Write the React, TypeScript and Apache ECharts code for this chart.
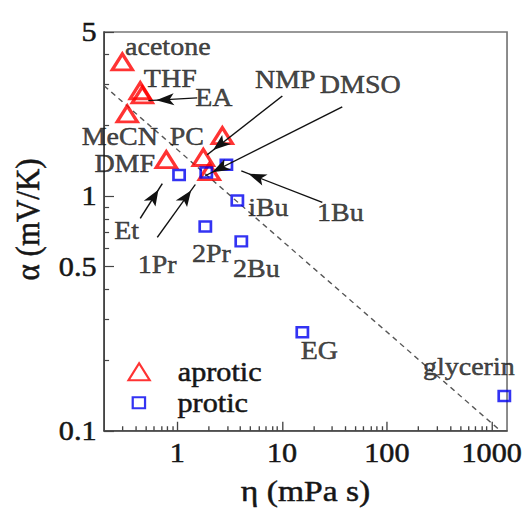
import React, { useEffect, useRef } from 'react';
import * as echarts from 'echarts';

// horizontal stretch of the reference figure
const S = 1.12;
const W = 471;
const H = 511;
const FONT = "'Liberation Serif', serif";
const TEXT = '#161616';

// aprotic solvents (red triangles)
const aproticNames = ['acetone', 'THF', 'EA', 'MeCN', 'PC', 'DMF', 'NMP', 'DMSO'];
const aproticEta = [0.299, 0.443, 0.464, 0.333, 2.69, 0.785, 1.77, 2.02];
const aproticAlpha = [3.73, 2.81, 2.7, 2.24, 1.81, 1.43, 1.46, 1.27];

// protic solvents (blue squares)
const proticNames = ['Et', '1Pr', '1Bu', 'iBu', '2Pr', '2Bu', 'EG', 'glycerin'];
const proticEta = [1.04, 1.89, 2.94, 3.74, 1.85, 4.08, 15.6, 1319];
const proticAlpha = [1.23, 1.26, 1.36, 0.957, 0.742, 0.641, 0.263, 0.1407];

// dashed guide line
const fitEta = [0.2, 1210];
const fitAlpha = [2.95, 0.1];

// annotation arrows (from label to point), in data units [eta, alpha]
const arrowFrom = [[1.55, 2.62], [10.05, 2.67], [37.5, 2.4], [24.2, 0.939], [0.443, 0.803], [0.644, 0.667]];
const arrowTo = [[0.529, 2.55], [1.93, 1.5], [1.85, 1.22], [4.08, 1.28], [0.719, 1.13], [1.486, 1.12]];

// ticks
const xLabelTicks = [1, 10, 100, 1000];
const xMinorTicks = [0.3, 0.4, 0.5, 0.6, 0.7, 0.8, 0.9, 2, 3, 4, 5, 6, 7, 8, 9, 20, 30, 40, 50, 60, 70, 80, 90, 200, 300, 400, 500, 600, 700, 800, 900];
const yLabelTicks = [0.1, 0.5, 1, 5];
const yMinorTicks = [0.2, 0.3, 0.4, 0.6, 0.7, 0.8, 0.9, 2, 3, 4];

// label placement (chart px offsets from the marker centre)
const labelOffsets: Record<string, [number, number]> = {
  acetone: [40.6, -15],
  THF: [26.8, -12],
  EA: [63.8, 3],
  MeCN: [-6.7, 23],
  PC: [-31.7, 1],
  DMF: [-37.1, 4],
  NMP: [73.2, -78],
  DMSO: [134.8, -87],
  Et: [-46.9, 56],
  '1Pr': [-43.8, 92],
  '1Bu': [101.8, 48],
  iBu: [27.7, 7],
  '2Pr': [5.4, 27],
  '2Bu': [13.4, 27],
  EG: [15.2, 18],
  glycerin: [-31.7, -29],
};

const fmt = (v: number) => String(Math.round(v * 1000) / 1000);

export default function App() {
  const ref = useRef<HTMLDivElement>(null);

  useEffect(() => {
    if (!ref.current) return;
    const chart = echarts.init(ref.current, undefined, { renderer: 'svg' });

    const bold = { textBorderColor: TEXT, textBorderWidth: 0.5 };

    const labelBase = {
      show: true,
      formatter: '{b}',
      position: 'inside' as const,
      fontSize: 25,
      fontFamily: FONT,
      color: TEXT,
      ...bold,
    };

    const mk = (names: string[], xs: number[], ys: number[]) =>
      xs.map((x, i) => ({
        name: names[i],
        value: [x, ys[i]],
        label: { offset: labelOffsets[names[i]] },
      }));

    const axisColor = '#444';

    chart.setOption({
      animation: false,
      backgroundColor: '#fff',
      grid: {
        left: 92.9,
        right: 18.3,
        top: 32,
        bottom: 79,
        show: true,
        borderColor: '#777',
        borderWidth: 1.5,
        backgroundColor: 'transparent',
      },
      legend: [
        {
          data: ['aprotic'],
          left: 113.7,
          top: 358,
          padding: 0,
          orient: 'vertical',
          itemWidth: 19,
          itemHeight: 17,
          symbolKeepAspect: false,
          selectedMode: false,
          textStyle: { fontSize: 27, fontFamily: FONT, color: TEXT, ...bold, padding: [0, 0, 0, 20] },
        },
        {
          data: ['protic'],
          left: 117.5,
          top: 389,
          padding: 0,
          orient: 'vertical',
          itemWidth: 11,
          itemHeight: 11,
          selectedMode: false,
          textStyle: { fontSize: 27, fontFamily: FONT, color: TEXT, ...bold, padding: [0, 0, 0, 24] },
        },
      ],
      xAxis: [
        {
          type: 'log',
          logBase: 10,
          min: 0.2,
          max: 1400,
          position: 'bottom',
          axisLine: { show: true, lineStyle: { color: axisColor, width: 1.5 } },
          axisTick: { show: true, inside: true, length: 9, customValues: xLabelTicks, lineStyle: { color: axisColor, width: 1.2 } },
          axisLabel: { show: true, customValues: xLabelTicks, formatter: fmt, margin: 8, fontSize: 27, fontFamily: FONT, color: TEXT, ...bold },
          splitLine: { show: false },
          name: 'η (mPa s)',
          nameLocation: 'middle',
          nameGap: 45,
          nameTextStyle: { fontSize: 30, fontFamily: FONT, color: TEXT, ...bold },
        },
        {
          type: 'log',
          logBase: 10,
          min: 0.2,
          max: 1400,
          position: 'bottom',
          axisLine: { show: false },
          axisTick: { show: true, inside: true, length: 4.5, customValues: xMinorTicks, lineStyle: { color: axisColor, width: 1.2 } },
          axisLabel: { show: false },
          splitLine: { show: false },
        },
      ],
      yAxis: [
        {
          type: 'log',
          logBase: 10,
          min: 0.1,
          max: 5,
          position: 'left',
          axisLine: { show: true, lineStyle: { color: axisColor, width: 1.5 } },
          axisTick: { show: true, inside: true, length: 8.9, customValues: yLabelTicks, lineStyle: { color: axisColor, width: 1.2 } },
          axisLabel: { show: true, customValues: yLabelTicks, formatter: fmt, margin: 6.6, fontSize: 27, fontFamily: FONT, color: TEXT, ...bold },
          splitLine: { show: false },
          name: 'α (mV/K)',
          nameLocation: 'middle',
          nameRotate: 90,
          nameGap: 53,
          nameTextStyle: { fontSize: 31, fontFamily: FONT, color: TEXT, ...bold, padding: [0, 0, 0, 24] },
        },
        {
          type: 'log',
          logBase: 10,
          min: 0.1,
          max: 5,
          position: 'left',
          axisLine: { show: false },
          axisTick: { show: true, inside: true, length: 4.5, customValues: yMinorTicks, lineStyle: { color: axisColor, width: 1.2 } },
          axisLabel: { show: false },
          splitLine: { show: false },
        },
      ],
      series: [
        {
          name: 'fit',
          type: 'line',
          data: fitEta.map((x, i) => [x, fitAlpha[i]]),
          showSymbol: false,
          symbol: 'none',
          silent: true,
          lineStyle: { color: '#555', width: 1.3, type: [5, 4] },
          z: 1,
          markLine: {
            silent: true,
            symbol: ['none', 'arrow'],
            symbolSize: [9, 16],
            symbolOffset: [[0, 0], [0, 7]],
            label: { show: false },
            lineStyle: { color: '#111', width: 1.3, type: 'solid' },
            emphasis: { disabled: true },
            data: arrowFrom.map((f, i) => [{ coord: f }, { coord: arrowTo[i] }]),
          },
        },
        {
          name: 'aprotic',
          type: 'scatter',
          data: mk(aproticNames, aproticEta, aproticAlpha),
          symbol: 'triangle',
          symbolSize: [18, 16],
          itemStyle: { color: 'rgba(255,255,255,0)', borderColor: '#ff0000', borderWidth: 3 },
          label: labelBase,
          z: 3,
        },
        {
          name: 'protic',
          type: 'scatter',
          data: mk(proticNames, proticEta, proticAlpha),
          symbol: 'rect',
          symbolSize: 10,
          itemStyle: { color: 'rgba(255,255,255,0)', borderColor: '#0000f0', borderWidth: 2.4 },
          label: labelBase,
          z: 4,
        },
      ],
    });

    return () => chart.dispose();
  }, []);

  return (
    <div style={{ position: 'fixed', left: 0, top: 0, width: 527, height: 511, overflow: 'hidden', background: '#fff' }}>
      <div ref={ref} style={{ width: W, height: H, transform: `scaleX(${S})`, transformOrigin: '0 0' }} />
    </div>
  );
}
